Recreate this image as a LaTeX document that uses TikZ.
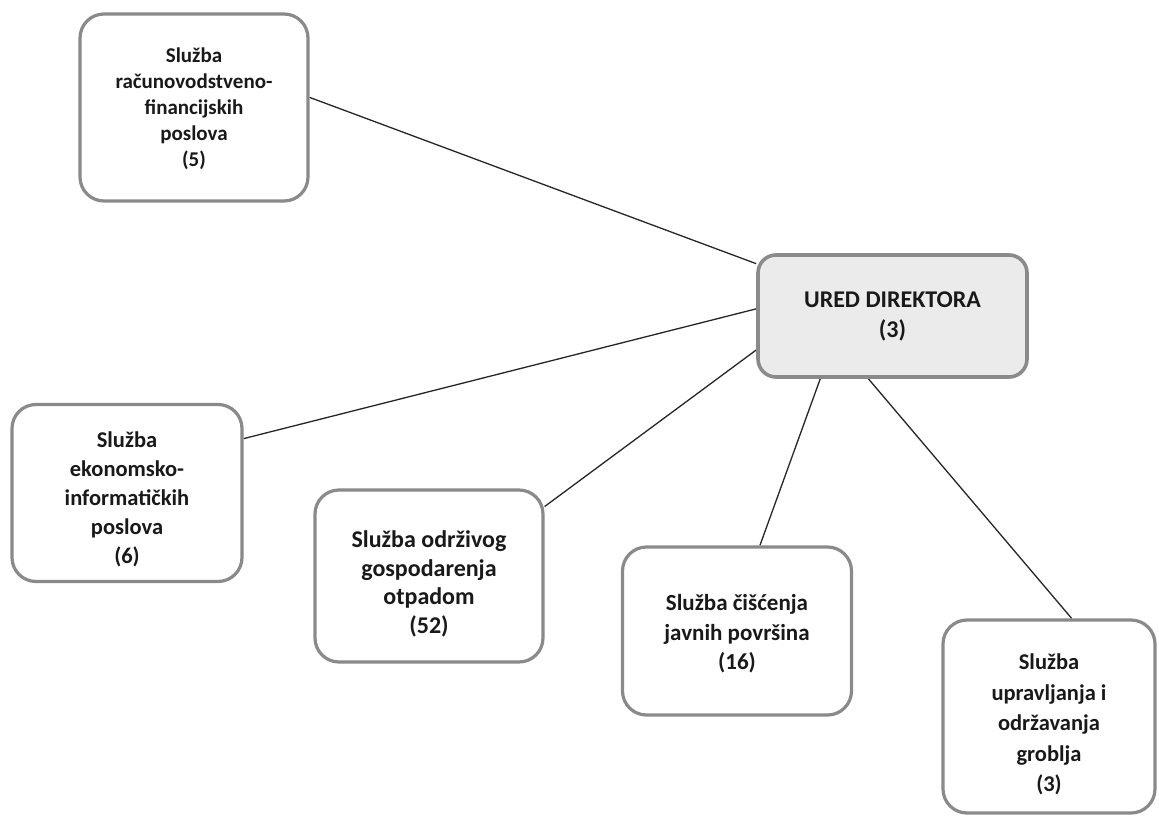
\documentclass[tikz,border=0pt]{standalone}
\usepackage{fontspec}
\setmainfont{Carlito}
\usetikzlibrary{backgrounds}
\definecolor{frame}{HTML}{8A8A8A}
\definecolor{uredfill}{HTML}{EBEBEB}
\tikzset{
  unit/.style={draw=frame, line width=3.2pt, rounded corners=24pt, fill=white, inner sep=0pt},
  head/.style={unit, fill=uredfill, line width=3.6pt, rounded corners=18pt},
  lbl/.style={align=center, text=black!90, inner sep=0pt},
  link/.style={draw=black!85, line width=1.3pt}
}
\begin{document}
\begin{tikzpicture}[x=1pt,y=-1pt]
\useasboundingbox (0,0) rectangle (1159,816);
\node[unit, minimum width=228pt, minimum height=187pt,
  label={[lbl, yshift=-1pt, font=\fontsize{21}{26}\selectfont\bfseries]center:{Služba\\računovodstveno-\\financijskih\\poslova\\(5)}}] (b1) at (194,107.5) {};
\node[head, minimum width=269pt, minimum height=122pt,
  label={[lbl, yshift=0pt, font=\fontsize{24}{30}\selectfont\bfseries]center:{URED DIREKTORA\\(3)}}] (ured) at (892.5,316) {};
\node[unit, minimum width=230pt, minimum height=177pt,
  label={[lbl, yshift=-6pt, font=\fontsize{22.5}{29}\selectfont\bfseries]center:{Služba\\ekonomsko-\\informatičkih\\poslova\\(6)}}] (b2) at (127,493) {};
\node[unit, minimum width=228pt, minimum height=172pt,
  label={[lbl, yshift=-8pt, font=\fontsize{24}{28.5}\selectfont\bfseries]center:{Služba održivog\\gospodarenja\\otpadom\\(52)}}] (b3) at (429,576) {};
\node[unit, minimum width=229pt, minimum height=168pt,
  label={[lbl, yshift=-3pt, font=\fontsize{23}{29.5}\selectfont\bfseries]center:{Služba čišćenja\\javnih površina\\(16)}}] (b4) at (737,631) {};
\node[unit, minimum width=212pt, minimum height=193pt,
  label={[lbl, yshift=-8pt, font=\fontsize{22.5}{30.5}\selectfont\bfseries]center:{Služba\\upravljanja i\\održavanja\\groblja\\(3)}}] (b5) at (1049,716.5) {};
\begin{pgfonlayer}{background}
\fill[white] (0,0) rectangle (1159,816);
\draw[link] (b1.5) -- (ured.159);
\draw[link] (b2.25) -- (ured.177.5);
\draw[link] (b3.31) -- (ured.194);
\draw[link] (b4.75) -- (ured.221.5);
\draw[link] (b5.77) -- (ured.249);
\end{pgfonlayer}
\end{tikzpicture}
\end{document}
